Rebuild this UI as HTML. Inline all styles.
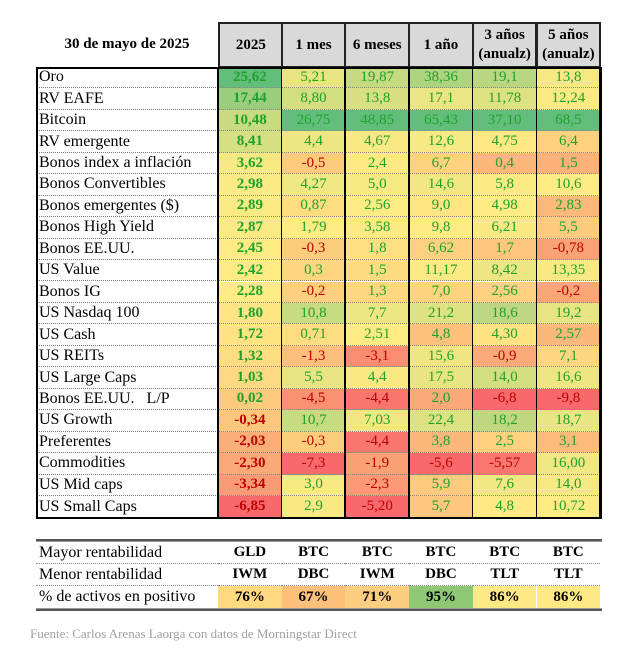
<!DOCTYPE html>
<html><head><meta charset="utf-8">
<style>
body{margin:0;width:626px;height:654px;background:#fff;font-family:"Liberation Serif",serif;position:relative;overflow:hidden}
.a{position:absolute;box-sizing:border-box}
.cell{position:absolute;box-sizing:border-box;display:flex;align-items:center;justify-content:center;font-size:15px}
</style></head><body>
<div id="root"></div>
<div class="a" style="left:30px;top:626px;font-size:13px;color:#a0a0a0">Fuente: Carlos Arenas Laorga con datos de Morningstar Direct</div>
<script>
const columns=["2025","1 mes","6 meses","1 año","3 años<br>(anualz)","5 años<br>(anualz)"];
const assets=["Oro","RV EAFE","Bitcoin","RV emergente","Bonos index a inflación","Bonos Convertibles","Bonos emergentes ($)","Bonos High Yield","Bonos EE.UU.","US Value","Bonos IG","US Nasdaq 100","US Cash","US REITs","US Large Caps","Bonos EE.UU. &nbsp;&nbsp;L/P","US Growth","Preferentes","Commodities","US Mid caps","US Small Caps"];
const v2025=["25,62","17,44","10,48","8,41","3,62","2,98","2,89","2,87","2,45","2,42","2,28","1,80","1,72","1,32","1,03","0,02","-0,34","-2,03","-2,30","-3,34","-6,85"];
const v1m=["5,21","8,80","26,75","4,4","-0,5","4,27","0,87","1,79","-0,3","0,3","-0,2","10,8","0,71","-1,3","5,5","-4,5","10,7","-0,3","-7,3","3,0","2,9"];
const v6m=["19,87","13,8","48,85","4,67","2,4","5,0","2,56","3,58","1,8","1,5","1,3","7,7","2,51","-3,1","4,4","-4,4","7,03","-4,4","-1,9","-2,3","-5,20"];
const v1y=["38,36","17,1","65,43","12,6","6,7","14,6","9,0","9,8","6,62","11,17","7,0","21,2","4,8","15,6","17,5","2,0","22,4","3,8","-5,6","5,9","5,7"];
const v3y=["19,1","11,78","37,10","4,75","0,4","5,8","4,98","6,21","1,7","8,42","2,56","18,6","4,30","-0,9","14,0","-6,8","18,2","2,5","-5,57","7,6","4,8"];
const v5y=["13,8","12,24","68,5","6,4","1,5","10,6","2,83","5,5","-0,78","13,35","-0,2","19,2","2,57","7,1","16,6","-9,8","18,7","3,1","16,00","14,0","10,72"];
const series=[v2025,v1m,v6m,v1y,v3y,v5y];
const bestLabels=["GLD","BTC","BTC","BTC","BTC","BTC"];
const worstLabels=["IWM","DBC","IWM","DBC","TLT","TLT"];
const pctPositive=[76,67,71,95,86,86];

const root=document.getElementById('root');
const X0=36,LW=182,CW=63.7,HT=22,BT=67,RH=21.45;
function num(s){return parseFloat(s.replace(',','.'));}
function mix(a,b,t){return 'rgb('+a.map((c,i)=>Math.round(c+(b[i]-c)*t)).join(',')+')';}
const RED=[248,105,107],YEL=[255,235,132],GRN=[99,190,123];
function color(v,arr){
  const s=arr.slice().sort((a,b)=>a-b);const mn=s[0],mx=s[s.length-1];
  const md=s.length%2?s[(s.length-1)/2]:(s[s.length/2-1]+s[s.length/2])/2;
  if(v>=md)return mix(YEL,GRN,mx===md?0:(v-md)/(mx-md));
  return mix(RED,YEL,(v-mn)/(md-mn));
}
function el(css,html){const d=document.createElement('div');d.className='cell';d.style.cssText=css;d.innerHTML=html;root.appendChild(d);return d;}
// title
let t=el(`left:${X0}px;top:${HT}px;width:${LW}px;height:${BT-HT}px;font-weight:bold;font-size:15px`,'30 de mayo de 2025');


columns.forEach((c,j)=>{
  const h=el(`left:${X0+LW+j*CW}px;top:${HT}px;width:${CW+2}px;height:${BT-HT+1}px;background:#d9d9d9;border:2px solid #222;font-weight:bold;text-align:center;line-height:1.25;margin-left:${j?-1:0}px`,c);
  
  
});
assets.forEach((a,i)=>{
  const y=BT+i*RH;
  const lab=el(`left:${X0}px;top:${y}px;width:${LW}px;height:${RH}px;justify-content:flex-start;padding-left:3px;font-size:16px;border-bottom:${i<assets.length-1?'1px dotted #777':'none'}`,a);
  
  
  series.forEach((arr,j)=>{
    const v=num(arr[i]);const nums=arr.map(num);
    const c=el(`left:${X0+LW+j*CW}px;top:${y}px;width:${CW}px;height:${RH}px;background:${color(v,nums)};color:${v<0?'#c00000':'#1ea22c'};${j===0?'font-weight:bold;':''}border-bottom:${i<assets.length-1?'1px dotted #888':'none'}`,arr[i]);
    
    
  });
});
// borders
const bx=el(`left:${X0}px;top:${BT}px;width:${LW+6*CW+2}px;height:${assets.length*RH+2}px;border:2px solid #000;background:none`,'');


for(let j=0;j<=6;j++){
  const l=el(`left:${X0+LW+j*CW-1}px;top:${BT}px;width:${j===0?2:1.5}px;height:${assets.length*RH}px;background:#000`,'');
  
  
}
// summary table
const ST=539,SR=22;
const tl=el(`left:${X0}px;top:${ST}px;width:${LW+6*CW+2}px;height:3px;border-top:2px solid #555;border-bottom:1px solid #999`,'');


const rows=[["Mayor rentabilidad",bestLabels],["Menor rentabilidad",worstLabels],["% de activos en positivo",pctPositive.map(p=>p+'%')]];
const pctColors=['#ffd97f','#fcc07a','#fdcd80','#8fc874','#ffe984','#ffe984'];
rows.forEach((r,i)=>{
  const y=ST+3+i*SR;
  const l=el(`left:${X0}px;top:${y}px;width:${LW}px;height:${SR}px;justify-content:flex-start;padding-left:3px;font-size:16px;border-bottom:${i<2?'1px dotted #888':'none'}`,r[0]);
  
  
  r[1].forEach((v,j)=>{
    const c=el(`left:${X0+LW+j*CW}px;top:${y}px;width:${CW}px;height:${SR}px;font-weight:bold;${i===2?'background:'+pctColors[j]+';':''}border-bottom:${i<2?'1px dotted #888':'none'}`,v);
    
    
  });
});
const bl=el(`left:${X0}px;top:${ST+3+3*SR}px;width:${LW+6*CW+2}px;height:3px;border-top:1px solid #999;border-bottom:2px solid #555`,'');


</script>
</body></html>
